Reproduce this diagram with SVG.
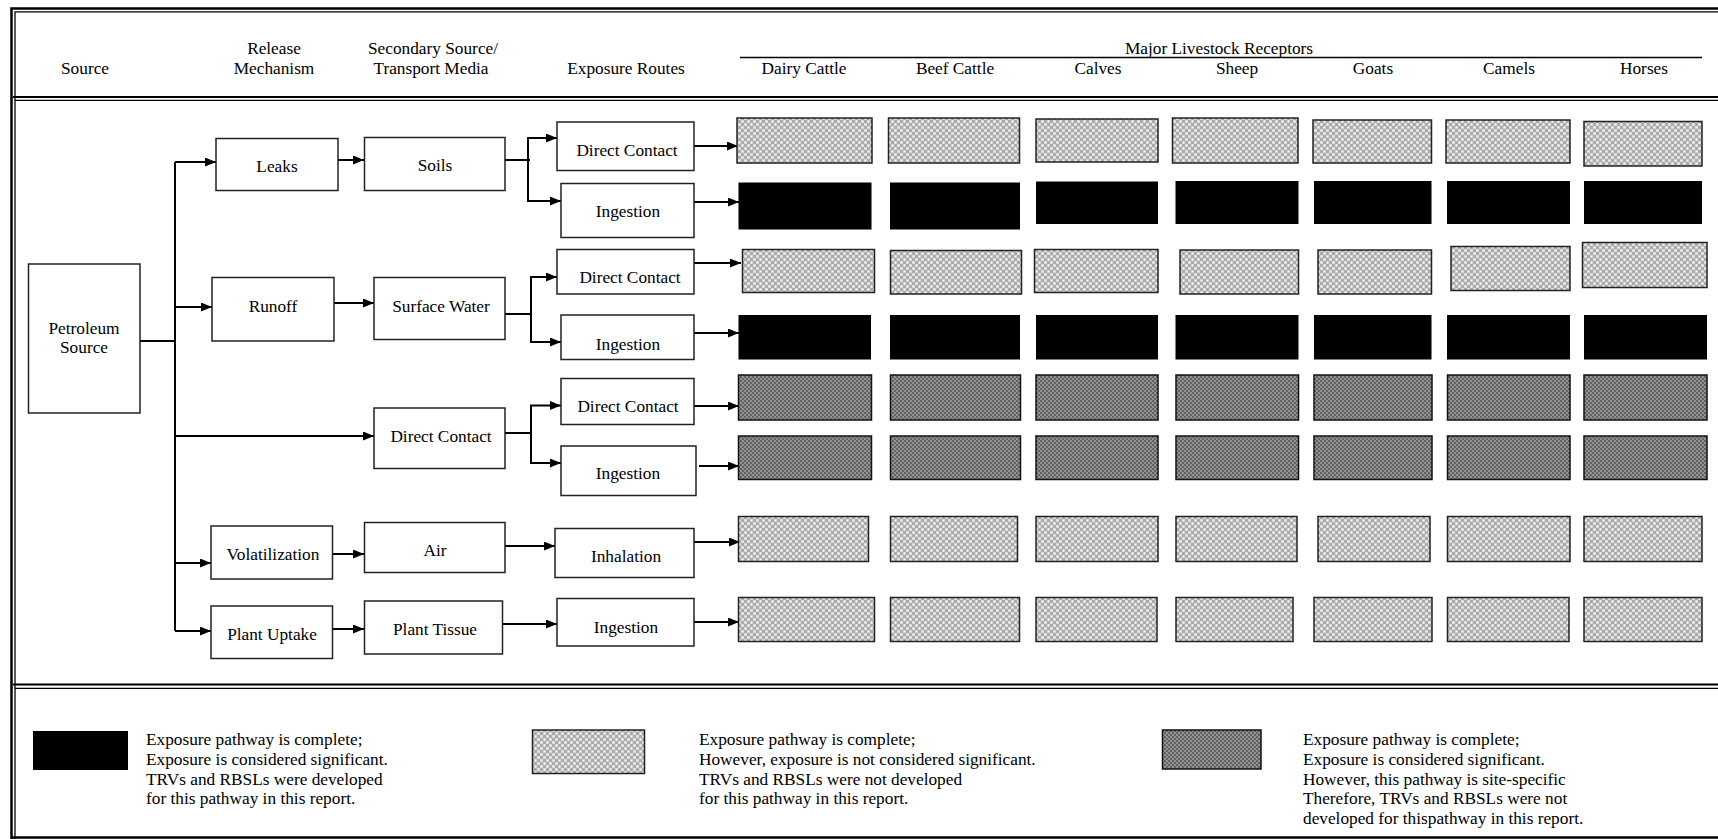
<svg xmlns="http://www.w3.org/2000/svg" width="1718" height="839" viewBox="0 0 1718 839">
<defs>
<style>
text{font-family:"Liberation Serif","Times New Roman",serif;font-size:17.3px;fill:#000;text-anchor:middle}
.lg{text-anchor:start}
.box{fill:#fff;stroke:#222;stroke-width:1.5}
.lt{fill:url(#ltp);stroke:#222;stroke-width:1.5}
.dk{fill:url(#dkp);stroke:#111;stroke-width:1.5}
.bk{fill:#000}
.cn{fill:none;stroke:#000;stroke-width:2}
.ar{marker-end:url(#ah)}
.fr{fill:none;stroke:#000}
</style>
<marker id="ah" markerUnits="userSpaceOnUse" markerWidth="11" markerHeight="9" refX="11" refY="4.5" orient="auto"><path d="M0,0 L11,4.5 L0,9 z" fill="#000"/></marker>
<pattern id="ltp" width="6" height="6" patternUnits="userSpaceOnUse"><rect width="6" height="6" fill="#dadada"/><rect width="3" height="3" fill="#ababab"/><rect x="3" y="3" width="3" height="3" fill="#ababab"/><rect x="1" y="4" width="1" height="1" fill="#fff"/><rect x="4" y="1" width="1" height="1" fill="#fff"/></pattern>
<pattern id="dkp" width="4" height="4" patternUnits="userSpaceOnUse"><rect width="4" height="4" fill="#929292"/><rect width="2" height="2" fill="#626262"/><rect x="2" y="2" width="2" height="2" fill="#626262"/></pattern>
</defs>
<rect width="1718" height="839" fill="#fff"/>
<g id="frame">
<path class="fr" stroke-width="2.5" d="M11.5,839 V8.5 H1718"/>
<path class="fr" stroke-width="1.3" d="M15,839 V11.8 H1718"/>
<path class="fr" stroke-width="2.2" d="M13,97 H1718"/>
<path class="fr" stroke-width="1.3" d="M15,100.3 H1718"/>
<path class="fr" stroke-width="2.2" d="M13,684.5 H1718"/>
<path class="fr" stroke-width="1.3" d="M15,688.3 H1718"/>
<path class="fr" stroke-width="2.5" d="M11,837.5 H1718"/>
</g>
<g id="header">
<text x="85" y="74">Source</text>
<text x="274" y="54">Release</text>
<text x="274" y="74">Mechanism</text>
<text x="433" y="54">Secondary Source/</text>
<text x="431" y="74">Transport Media</text>
<text x="626" y="74">Exposure Routes</text>
<text x="1219" y="54">Major Livestock Receptors</text>
<path class="fr" stroke-width="1.6" d="M740,57.5 H1702"/>
<text x="804" y="74">Dairy Cattle</text>
<text x="955" y="74">Beef Cattle</text>
<text x="1098" y="74">Calves</text>
<text x="1237" y="74">Sheep</text>
<text x="1373" y="74">Goats</text>
<text x="1509" y="74">Camels</text>
<text x="1644" y="74">Horses</text>
</g>
<g id="connectors">
<path class="cn" d="M140,341 H175 M175,162 V631"/>
<path class="cn ar" d="M175,162 H216"/>
<path class="cn ar" d="M175,307 H212"/>
<path class="cn ar" d="M175,436 H374"/>
<path class="cn ar" d="M175,563 H211"/>
<path class="cn ar" d="M175,631 H211"/>
<path class="cn ar" d="M338,160 H364"/>
<path class="cn ar" d="M334,303 H374"/>
<path class="cn ar" d="M330,554 H364"/>
<path class="cn ar" d="M332,629 H364"/>
<path class="cn" d="M505,160 H530 M528,138 V201"/>
<path class="cn ar" d="M527,138 H557"/>
<path class="cn ar" d="M527,201 H561"/>
<path class="cn" d="M505,314 H531 M531,277 V342"/>
<path class="cn ar" d="M530,277 H557"/>
<path class="cn ar" d="M530,342 H561"/>
<path class="cn" d="M505,433 H531 M531,405.5 V463"/>
<path class="cn ar" d="M530,405.5 H561"/>
<path class="cn ar" d="M530,463 H561"/>
<path class="cn ar" d="M505,546 H555"/>
<path class="cn ar" d="M502,624 H557"/>
<path class="cn ar" d="M694,146 H738"/>
<path class="cn ar" d="M694,202 H739"/>
<path class="cn ar" d="M694,263 H741"/>
<path class="cn ar" d="M694,333 H739"/>
<path class="cn ar" d="M694,406 H739"/>
<path class="cn ar" d="M699,466 H739"/>
<path class="cn ar" d="M694,542 H740"/>
<path class="cn ar" d="M694,622 H739"/>
</g>
<g id="petroleum-source"><rect class="box" x="28.5" y="264" width="111.5" height="149"/><text x="84" y="334">Petroleum</text><text x="84" y="353">Source</text></g>
<g id="leaks"><rect class="box" x="216" y="138.5" width="122" height="52"/><text x="277" y="172">Leaks</text></g>
<g id="runoff"><rect class="box" x="212" y="277.5" width="122" height="63.5"/><text x="273" y="312">Runoff</text></g>
<g id="volatilization"><rect class="box" x="211" y="526" width="121.5" height="53"/><text x="273" y="560">Volatilization</text></g>
<g id="plant-uptake"><rect class="box" x="211" y="606" width="121.5" height="52.5"/><text x="272" y="640">Plant Uptake</text></g>
<g id="soils"><rect class="box" x="364.5" y="137.5" width="140.5" height="53"/><text x="435" y="171">Soils</text></g>
<g id="surface-water"><rect class="box" x="374" y="277.5" width="131" height="62"/><text x="441" y="312">Surface Water</text></g>
<g id="direct-contact-media"><rect class="box" x="374" y="408" width="131" height="60.5"/><text x="441" y="442">Direct Contact</text></g>
<g id="air"><rect class="box" x="364.5" y="522.5" width="140.5" height="50"/><text x="435" y="556">Air</text></g>
<g id="plant-tissue"><rect class="box" x="364.5" y="601" width="138" height="53"/><text x="435" y="635">Plant Tissue</text></g>
<g id="direct-contact-1"><rect class="box" x="557" y="122" width="137" height="48.5"/><text x="627" y="156">Direct Contact</text></g>
<g id="ingestion-1"><rect class="box" x="561" y="183.5" width="133" height="54"/><text x="628" y="217">Ingestion</text></g>
<g id="direct-contact-2"><rect class="box" x="557" y="249.5" width="137" height="44.5"/><text x="630" y="283">Direct Contact</text></g>
<g id="ingestion-2"><rect class="box" x="561" y="315" width="133" height="44.5"/><text x="628" y="350">Ingestion</text></g>
<g id="direct-contact-3"><rect class="box" x="561" y="378.5" width="133" height="46"/><text x="628" y="412">Direct Contact</text></g>
<g id="ingestion-3"><rect class="box" x="561" y="446" width="135" height="49.5"/><text x="628" y="479">Ingestion</text></g>
<g id="inhalation"><rect class="box" x="555" y="528.5" width="139" height="49"/><text x="626" y="562">Inhalation</text></g>
<g id="ingestion-4"><rect class="box" x="557" y="598.5" width="137" height="47.5"/><text x="626" y="633">Ingestion</text></g>
<g id="receptors">
<g id="r1c1"><rect class="lt" x="737" y="118" width="135" height="45"/></g>
<g id="r1c2"><rect class="lt" x="888.5" y="118" width="131" height="45"/></g>
<g id="r1c3"><rect class="lt" x="1036" y="119" width="122" height="43"/></g>
<g id="r1c4"><rect class="lt" x="1172.5" y="118" width="125.5" height="45"/></g>
<g id="r1c5"><rect class="lt" x="1313" y="120" width="118.5" height="43"/></g>
<g id="r1c6"><rect class="lt" x="1446" y="120" width="124" height="43"/></g>
<g id="r1c7"><rect class="lt" x="1584" y="121.5" width="118" height="44.5"/></g>
<g id="r2c1"><rect class="bk" x="738.5" y="182.5" width="133" height="47"/></g>
<g id="r2c2"><rect class="bk" x="890" y="182.5" width="130" height="47"/></g>
<g id="r2c3"><rect class="bk" x="1036" y="181.5" width="122" height="42.5"/></g>
<g id="r2c4"><rect class="bk" x="1175.5" y="181" width="123" height="43"/></g>
<g id="r2c5"><rect class="bk" x="1314" y="181" width="117.5" height="43"/></g>
<g id="r2c6"><rect class="bk" x="1447" y="181" width="123" height="43"/></g>
<g id="r2c7"><rect class="bk" x="1584" y="181" width="118" height="43"/></g>
<g id="r3c1"><rect class="lt" x="742.5" y="249.5" width="132" height="43"/></g>
<g id="r3c2"><rect class="lt" x="890.5" y="250.5" width="131" height="43.5"/></g>
<g id="r3c3"><rect class="lt" x="1034.5" y="249.5" width="123.5" height="43"/></g>
<g id="r3c4"><rect class="lt" x="1180" y="250" width="118.5" height="44"/></g>
<g id="r3c5"><rect class="lt" x="1318" y="250" width="113.5" height="44"/></g>
<g id="r3c6"><rect class="lt" x="1451" y="246.5" width="119" height="44"/></g>
<g id="r3c7"><rect class="lt" x="1582.5" y="242.5" width="124.5" height="45"/></g>
<g id="r4c1"><rect class="bk" x="738.5" y="315" width="132.5" height="44.5"/></g>
<g id="r4c2"><rect class="bk" x="890" y="315" width="130" height="44.5"/></g>
<g id="r4c3"><rect class="bk" x="1036" y="315" width="122" height="44.5"/></g>
<g id="r4c4"><rect class="bk" x="1175.5" y="315" width="123" height="44.5"/></g>
<g id="r4c5"><rect class="bk" x="1314" y="315" width="117.5" height="44.5"/></g>
<g id="r4c6"><rect class="bk" x="1447" y="315" width="123" height="44.5"/></g>
<g id="r4c7"><rect class="bk" x="1584" y="315" width="123" height="44.5"/></g>
<g id="r5c1"><rect class="dk" x="738.5" y="375" width="133" height="45"/></g>
<g id="r5c2"><rect class="dk" x="890.5" y="375" width="130" height="45"/></g>
<g id="r5c3"><rect class="dk" x="1036" y="375" width="122" height="45"/></g>
<g id="r5c4"><rect class="dk" x="1176" y="375" width="122.5" height="45"/></g>
<g id="r5c5"><rect class="dk" x="1314" y="375" width="118" height="45"/></g>
<g id="r5c6"><rect class="dk" x="1447.5" y="375" width="122.5" height="45"/></g>
<g id="r5c7"><rect class="dk" x="1584" y="375" width="123" height="45"/></g>
<g id="r6c1"><rect class="dk" x="738.5" y="436" width="133" height="43.5"/></g>
<g id="r6c2"><rect class="dk" x="890.5" y="436" width="130" height="43.5"/></g>
<g id="r6c3"><rect class="dk" x="1036" y="436" width="122" height="43.5"/></g>
<g id="r6c4"><rect class="dk" x="1176" y="436" width="122.5" height="43.5"/></g>
<g id="r6c5"><rect class="dk" x="1314" y="436" width="118" height="43.5"/></g>
<g id="r6c6"><rect class="dk" x="1447.5" y="436" width="122.5" height="43.5"/></g>
<g id="r6c7"><rect class="dk" x="1584" y="436" width="123" height="43.5"/></g>
<g id="r7c1"><rect class="lt" x="738.5" y="516.5" width="130" height="45"/></g>
<g id="r7c2"><rect class="lt" x="890.5" y="516.5" width="127" height="45"/></g>
<g id="r7c3"><rect class="lt" x="1036" y="516.5" width="122" height="45"/></g>
<g id="r7c4"><rect class="lt" x="1176" y="516.5" width="121" height="45"/></g>
<g id="r7c5"><rect class="lt" x="1318" y="516.5" width="112" height="45"/></g>
<g id="r7c6"><rect class="lt" x="1447.5" y="516.5" width="122.5" height="45"/></g>
<g id="r7c7"><rect class="lt" x="1584" y="516.5" width="118" height="45"/></g>
<g id="r8c1"><rect class="lt" x="738.5" y="597.5" width="136" height="44"/></g>
<g id="r8c2"><rect class="lt" x="890.5" y="597.5" width="129" height="44"/></g>
<g id="r8c3"><rect class="lt" x="1036" y="597.5" width="121" height="44"/></g>
<g id="r8c4"><rect class="lt" x="1176" y="597.5" width="117" height="44"/></g>
<g id="r8c5"><rect class="lt" x="1314" y="597.5" width="118" height="44"/></g>
<g id="r8c6"><rect class="lt" x="1447.5" y="597.5" width="121.5" height="44"/></g>
<g id="r8c7"><rect class="lt" x="1584" y="597.5" width="118" height="44"/></g>
</g>
<g id="legend-significant"><rect class="bk" x="33" y="731" width="95" height="39"/>
<text class="lg" x="146" y="745">Exposure pathway is complete;</text>
<text class="lg" x="146" y="765">Exposure is considered significant.</text>
<text class="lg" x="146" y="785">TRVs and RBSLs were developed</text>
<text class="lg" x="146" y="804">for this pathway in this report.</text></g>
<g id="legend-not-significant"><rect class="lt" x="532.5" y="730" width="112" height="43.5"/>
<text class="lg" x="699" y="745">Exposure pathway is complete;</text>
<text class="lg" x="699" y="765">However, exposure is not considered significant.</text>
<text class="lg" x="699" y="785">TRVs and RBSLs were not developed</text>
<text class="lg" x="699" y="804">for this pathway in this report.</text></g>
<g id="legend-site-specific"><rect class="dk" x="1162.5" y="730" width="98.5" height="39"/>
<text class="lg" x="1303" y="745">Exposure pathway is complete;</text>
<text class="lg" x="1303" y="765">Exposure is considered significant.</text>
<text class="lg" x="1303" y="785">However, this pathway is site-specific</text>
<text class="lg" x="1303" y="804">Therefore, TRVs and RBSLs were not</text>
<text class="lg" x="1303" y="824">developed for thispathway in this report.</text></g>
</svg>
